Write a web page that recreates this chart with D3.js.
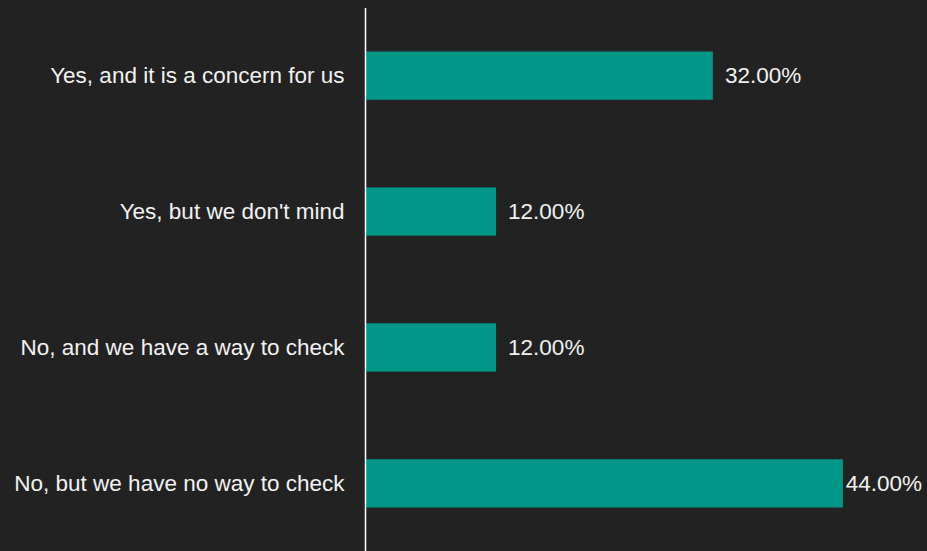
<!DOCTYPE html>
<html>
<head>
<meta charset="utf-8">
<script src="https://cdn.jsdelivr.net/npm/d3@7"></script>
<style>
  html, body { margin: 0; padding: 0; background: #222222; }
  svg { display: block; }
</style>
</head>
<body>
<svg id="chart" width="927" height="551"></svg>
<script>
const categories = [
  "Yes, and it is a concern for us",
  "Yes, but we don't mind",
  "No, and we have a way to check",
  "No, but we have no way to check"
];
const values = [32, 12, 12, 44];

const width = 927, height = 551;
const margin = { left: 366, top: 8, right: 19, bottom: 0 };
const fontSize = "22.5px";

const svg = d3.select("#chart");
svg.append("rect").attr("width", width).attr("height", height).attr("fill", "#222222");

const x = d3.scaleLinear().domain([0, 50]).range([margin.left, margin.left + 542]);
const y = d3.scaleBand()
  .domain(categories)
  .range([margin.top, height - margin.bottom])
  .paddingInner(0.645)
  .paddingOuter(0.32);

const data = categories.map((c, i) => ({ c, v: values[i] }));

svg.append("g").selectAll("rect")
  .data(data)
  .join("rect")
  .attr("x", x(0))
  .attr("y", d => y(d.c))
  .attr("width", d => x(d.v) - x(0))
  .attr("height", y.bandwidth())
  .attr("fill", "#009688");

// Category axis: vertical line with labels to the left
const axis = d3.axisLeft(y).tickSize(0).tickPadding(21);
const gAxis = svg.append("g")
  .attr("transform", `translate(${x(0) - 0.5},0)`)
  .call(axis);
gAxis.select(".domain").attr("stroke", "#ffffff").attr("stroke-width", 1.5)
  .attr("d", `M0,${margin.top}V${height}`);
gAxis.selectAll("text")
  .attr("fill", "#f2f2f2")
  .style("font-family", "'Liberation Sans', Arial, sans-serif")
  .style("font-size", fontSize);

// Value labels at the bar ends, kept inside the view
const fmt = v => v.toFixed(2) + "%";
const labels = svg.append("g").selectAll("text")
  .data(data)
  .join("text")
  .attr("y", d => y(d.c) + y.bandwidth() / 2)
  .attr("dy", "0.35em")
  .attr("fill", "#f2f2f2")
  .style("font-family", "'Liberation Sans', Arial, sans-serif")
  .style("font-size", fontSize)
  .text(d => fmt(d.v));
labels.attr("x", function(d) {
  const w = this.getComputedTextLength();
  return Math.min(x(d.v) + 12, width - 5 - w);
});
</script>
</body>
</html>
